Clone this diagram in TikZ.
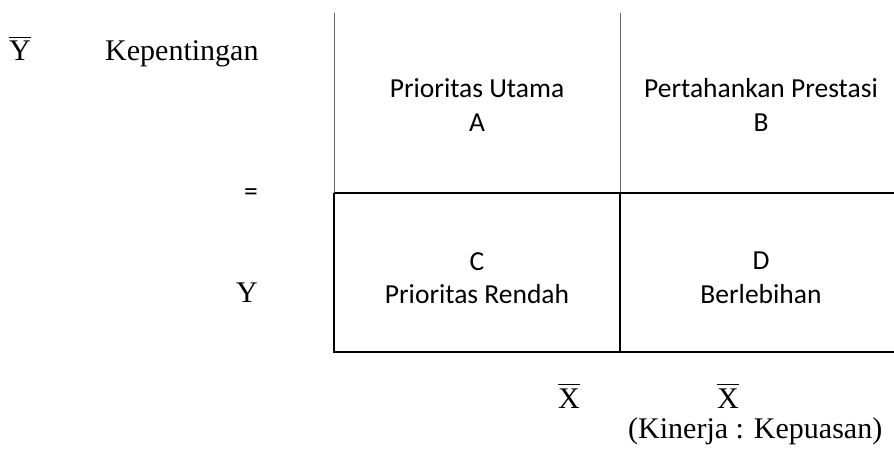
\documentclass[tikz,border=0pt]{standalone}
\usepackage{fontspec}
\setmainfont{Liberation Serif}
\newfontfamily\calibri{Carlito}
\newcommand{\barred}[1]{\leavevmode\vbox{\hrule height 1.2pt\kern 3pt\hbox{#1}}}
\begin{document}
\begin{tikzpicture}[x=1pt,y=-1pt,
  serif/.style={font=\fontsize{30}{36}\selectfont, inner sep=0pt},
  sans/.style={font=\calibri\fontsize{27.5}{33.5}\selectfont, align=center, inner sep=0pt},
  grayline/.style={draw=black!60, line width=1pt},
  blackline/.style={draw=black, line width=1.6pt}]
\useasboundingbox (0,0) rectangle (894,465);
% grid corners
\coordinate (tl) at (334,13);
\coordinate (tm) at (620,13);
\coordinate (ml) at (334,193);
\coordinate (mm) at (620,193);
\coordinate (mr) at (894,193);
\coordinate (bl) at (334,352);
\coordinate (bm) at (620,352);
\coordinate (br) at (894,352);
% upper (gray) verticals
\draw[grayline] (tl) -- (ml);
\draw[grayline] (tm) -- (mm);
% black lines
\draw[blackline] (ml) -- (mr);
\draw[blackline] (ml) -- (bl) -- (br);
\draw[blackline] (mm) -- (bm);
% quadrant texts
\node[sans] (A) at (477,105) {Prioritas Utama\\A};
\node[sans] (B) at (761,105) {Pertahankan Prestasi\\B};
\node[sans] (C) at (477,278) {C\\Prioritas Rendah};
\node[sans] (D) at (761,278) {D\\Berlebihan};
% left labels
\node[serif, anchor=base] (ybar) at (20,61) {\barred{Y}};
\node[serif, anchor=base west] (kep) at (105,61) {Kepentingan};
\node[sans] (eq) at (251,195) {=};
\node[serif, anchor=base] (y) at (247,302) {Y};
% bottom labels
\node[serif, anchor=base] (x1) at (569,408) {\barred{X}};
\node[serif, anchor=base] (x2) at (728,408) {\barred{X}};
\node[serif, anchor=base west] (kin) at (628,438) {(Kinerja : Kepuasan)};
\end{tikzpicture}
\end{document}
